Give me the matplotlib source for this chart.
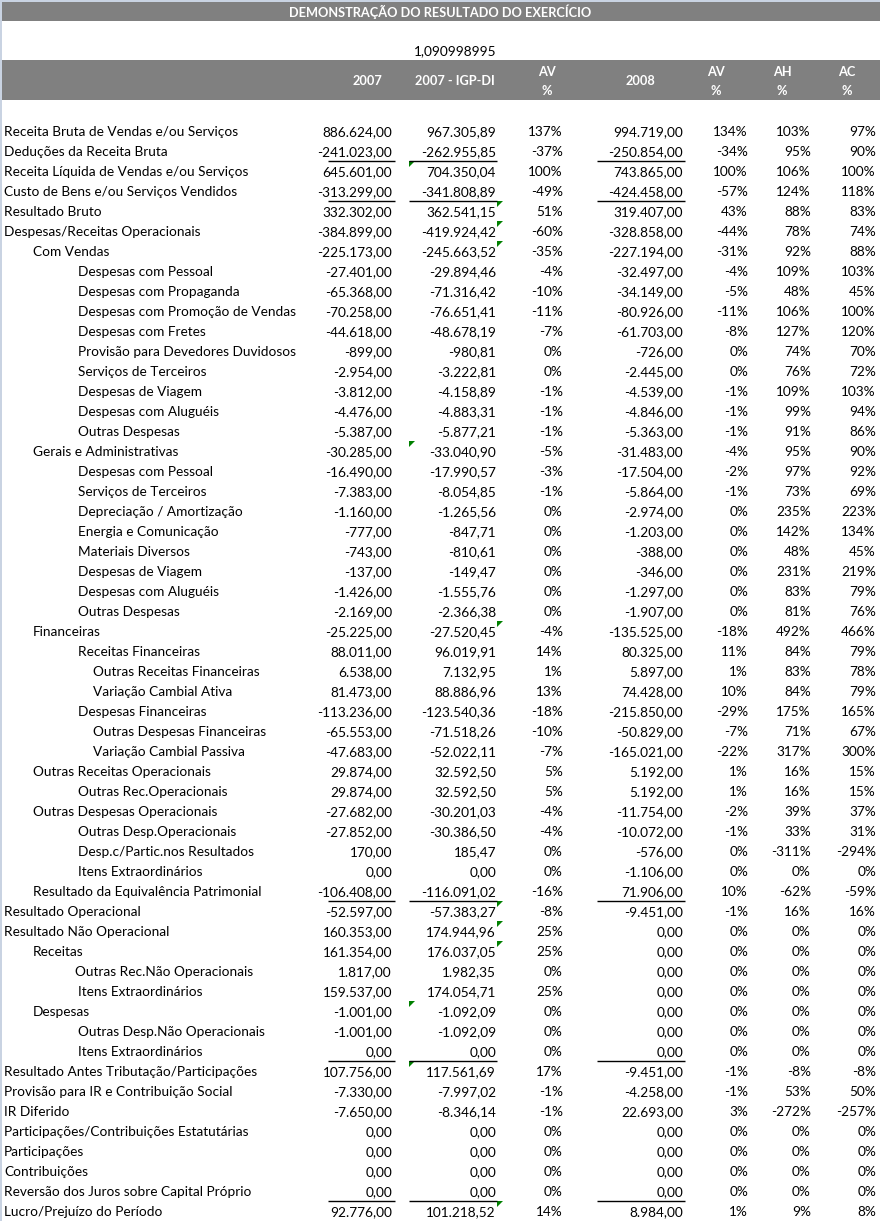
import numpy as np
import matplotlib.pyplot as plt
from matplotlib.patches import Rectangle, Polygon

plt.rcParams['font.family'] = ['Lato', 'DejaVu Sans']

# linhas da DRE
labels = ['Receita Bruta de Vendas e/ou Serviços', 'Deduções da Receita Bruta',
          'Receita Líquida de Vendas e/ou Serviços', 'Custo de Bens e/ou Serviços Vendidos',
          'Resultado Bruto', 'Despesas/Receitas Operacionais', 'Com Vendas',
          'Despesas com Pessoal', 'Despesas com Propaganda', 'Despesas com Promoção de Vendas',
          'Despesas com Fretes', 'Provisão para Devedores Duvidosos', 'Serviços de Terceiros',
          'Despesas de Viagem', 'Despesas com Aluguéis', 'Outras Despesas',
          'Gerais e Administrativas', 'Despesas com Pessoal', 'Serviços de Terceiros',
          'Depreciação / Amortização', 'Energia e Comunicação', 'Materiais Diversos',
          'Despesas de Viagem', 'Despesas com Aluguéis', 'Outras Despesas',
          'Financeiras', 'Receitas Financeiras', 'Outras Receitas Financeiras',
          'Variação Cambial Ativa', 'Despesas Financeiras', 'Outras Despesas Financeiras',
          'Variação Cambial Passiva', 'Outras Receitas Operacionais', 'Outras Rec.Operacionais',
          'Outras Despesas Operacionais', 'Outras Desp.Operacionais',
          'Desp.c/Partic.nos Resultados', 'Itens Extraordinários',
          'Resultado da Equivalência Patrimonial', 'Resultado Operacional',
          'Resultado Não Operacional', 'Receitas', 'Outras Rec.Não Operacionais',
          'Itens Extraordinários', 'Despesas', 'Outras Desp.Não Operacionais',
          'Itens Extraordinários', 'Resultado Antes Tributação/Participações',
          'Provisão para IR e Contribuição Social', 'IR Diferido',
          'Participações/Contribuições Estatutárias', 'Participações', 'Contribuições',
          'Reversão dos Juros sobre Capital Próprio', 'Lucro/Prejuízo do Período']

levels = [0, 0, 0, 0, 0, 0, 1, 2, 2, 2, 2, 2, 2, 2, 2, 2, 1, 2, 2, 2, 2, 2, 2, 2, 2,
          1, 2, 3, 3, 2, 3, 3, 1, 2, 1, 2, 2, 2, 1, 0, 0, 1, 2, 2, 1, 2, 2,
          0, 0, 0, 0, 0, 0, 0, 0]

v2007 = [886624, -241023, 645601, -313299, 332302, -384899, -225173, -27401, -65368,
         -70258, -44618, -899, -2954, -3812, -4476, -5387, -30285, -16490, -7383, -1160,
         -777, -743, -137, -1426, -2169, -25225, 88011, 6538, 81473, -113236, -65553,
         -47683, 29874, 29874, -27682, -27852, 170, 0, -106408, -52597, 160353, 161354,
         1817, 159537, -1001, -1001, 0, 107756, -7330, -7650, 0, 0, 0, 0, 92776]

v2007_igp = [967305.89, -262955.85, 704350.04, -341808.89, 362541.15, -419924.42,
             -245663.52, -29894.46, -71316.42, -76651.41, -48678.19, -980.81, -3222.81,
             -4158.89, -4883.31, -5877.21, -33040.90, -17990.57, -8054.85, -1265.56,
             -847.71, -810.61, -149.47, -1555.76, -2366.38, -27520.45, 96019.91, 7132.95,
             88886.96, -123540.36, -71518.26, -52022.11, 32592.50, 32592.50, -30201.03,
             -30386.50, 185.47, 0, -116091.02, -57383.27, 174944.96, 176037.05, 1982.35,
             174054.71, -1092.09, -1092.09, 0, 117561.69, -7997.02, -8346.14, 0, 0, 0, 0,
             101218.52]

av2007 = [137, -37, 100, -49, 51, -60, -35, -4, -10, -11, -7, 0, 0, -1, -1, -1, -5, -3,
          -1, 0, 0, 0, 0, 0, 0, -4, 14, 1, 13, -18, -10, -7, 5, 5, -4, -4, 0, 0, -16, -8,
          25, 25, 0, 25, 0, 0, 0, 17, -1, -1, 0, 0, 0, 0, 14]

v2008 = [994719, -250854, 743865, -424458, 319407, -328858, -227194, -32497, -34149,
         -80926, -61703, -726, -2445, -4539, -4846, -5363, -31483, -17504, -5864, -2974,
         -1203, -388, -346, -1297, -1907, -135525, 80325, 5897, 74428, -215850, -50829,
         -165021, 5192, 5192, -11754, -10072, -576, -1106, 71906, -9451, 0, 0, 0, 0, 0,
         0, 0, -9451, -4258, 22693, 0, 0, 0, 0, 8984]

av2008 = [134, -34, 100, -57, 43, -44, -31, -4, -5, -11, -8, 0, 0, -1, -1, -1, -4, -2,
          -1, 0, 0, 0, 0, 0, 0, -18, 11, 1, 10, -29, -7, -22, 1, 1, -2, -1, 0, 0, 10, -1,
          0, 0, 0, 0, 0, 0, 0, -1, -1, 3, 0, 0, 0, 0, 1]

ah = [103, 95, 106, 124, 88, 78, 92, 109, 48, 106, 127, 74, 76, 109, 99, 91, 95, 97, 73,
      235, 142, 48, 231, 83, 81, 492, 84, 83, 84, 175, 71, 317, 16, 16, 39, 33, -311, 0,
      -62, 16, 0, 0, 0, 0, 0, 0, 0, -8, 53, -272, 0, 0, 0, 0, 9]

ac = [97, 90, 100, 118, 83, 74, 88, 103, 45, 100, 120, 70, 72, 103, 94, 86, 90, 92, 69,
      223, 134, 45, 219, 79, 76, 466, 79, 78, 79, 165, 67, 300, 15, 15, 37, 31, -294, 0,
      -59, 16, 0, 0, 0, 0, 0, 0, 0, -8, 50, -257, 0, 0, 0, 0, 8]

underlined = [1, 3, 38, 46, 53]
flag_igp = [2, 16, 44, 47]          # triangulo verde no canto da celula IGP
flag_av = [4, 5, 6, 25, 39, 40, 41, 54]

fator = '1,090998995'
col_heads = ['2007', '2007 - IGP-DI', 'AV\n%', '2008', 'AV\n%', 'AH\n%', 'AC\n%']


def brl(v):
    s = f'{v:,.2f}'
    return s.replace(',', 'X').replace('.', ',').replace('X', '.')


fig = plt.figure(figsize=(8.8, 12.21), dpi=100)
ax = fig.add_axes([0, 0, 1, 1])
ax.set_xlim(0, 880)
ax.set_ylim(1221, 0)
ax.axis('off')

gray = '#808080'
fs = 9.8
fs_b = 9.2

# bordas da planilha
ax.add_patch(Rectangle((0, 0), 2, 1221, color='#c9d3e2', lw=0))
ax.add_patch(Rectangle((0, 0), 880, 1.5, color='#c9d3e2', lw=0))

# faixa de titulo
ax.add_patch(Rectangle((2, 1.5), 878, 19.5, color=gray, lw=0))
ax.text(440, 12, 'DEMONSTRAÇÃO DO RESULTADO DO EXERCÍCIO', ha='center', va='center',
        color='white', fontsize=fs_b, weight='bold')

ax.text(496, 51, fator, ha='right', va='center', fontsize=fs)

# cabecalho
ax.add_patch(Rectangle((2, 60), 878, 40, color=gray, lw=0))
right_edges = [392, 496, 563, 683, 748, 811, 876]
head_x = [367, 455, 547, 640, 716, 782, 847]
for hx, h in zip(head_x, col_heads):
    if '\n' in h:
        top, bot = h.split('\n')
        ax.text(hx, 72, top, ha='center', va='center', color='white', fontsize=fs_b, weight='bold')
        ax.text(hx, 91, bot, ha='center', va='center', color='white', fontsize=fs_b, weight='bold')
    else:
        ax.text(hx, 81, h, ha='center', va='center', color='white', fontsize=fs_b, weight='bold')

indent = {0: 4, 1: 33, 2: 78, 3: 93}
for i, lab in enumerate(labels):
    y = 131 + 20 * i
    x0 = indent[levels[i]]
    if lab == 'Outras Rec.Não Operacionais':
        x0 = 75
    ax.text(x0, y + 1, lab, ha='left', va='center', fontsize=fs)
    vals = [brl(v2007[i]), brl(v2007_igp[i]), f'{av2007[i]}%', brl(v2008[i]),
            f'{av2008[i]}%', f'{ah[i]}%', f'{ac[i]}%']
    for xr, s in zip(right_edges, vals):
        ax.text(xr, y + 1, s, ha='right', va='center', fontsize=fs)
    if i in underlined:
        for xa, xb in [(328, 395), (409, 497), (597, 685)]:
            ax.plot([xa, xb], [y + 9.5, y + 9.5], color='black', lw=1, solid_capstyle='butt')

# indicadores verdes do excel
for rows, xc in [(flag_igp, 409), (flag_av, 497)]:
    for i in rows:
        yt = 131 + 20 * i - 10
        ax.add_patch(Polygon([(xc, yt), (xc + 6, yt), (xc, yt + 6)], closed=True,
                             color='#008000', lw=0))

fig.savefig('out.png', dpi=100)
